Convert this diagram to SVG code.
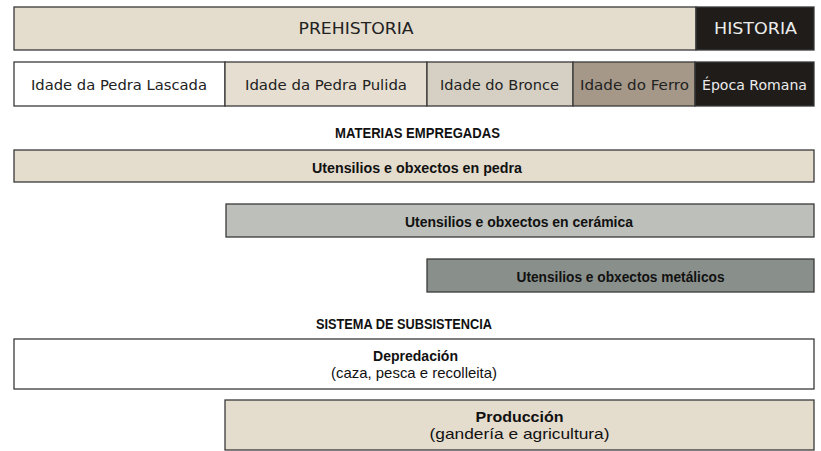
<svg xmlns="http://www.w3.org/2000/svg" width="821" height="451" viewBox="0 0 821 451">
<style>
.box{stroke:#3a3a3a;stroke-width:1.3}
.era{font-family:"DejaVu Sans","Liberation Sans",sans-serif;font-size:16.5px;text-anchor:middle;dominant-baseline:central}
.per{font-family:"DejaVu Sans","Liberation Sans",sans-serif;font-size:14.6px;text-anchor:middle;dominant-baseline:central}
.dk{fill:#222222}
.lt{fill:#ececec}
.hd{font-family:"Liberation Sans","Arial",sans-serif;font-weight:bold;font-size:14.5px;text-anchor:middle;dominant-baseline:central;fill:#111}
.lb{font-family:"Liberation Sans","Arial",sans-serif;font-weight:bold;font-size:15px;text-anchor:middle;dominant-baseline:central;fill:#111}
.sub{font-family:"Liberation Sans","Arial",sans-serif;font-size:15px;text-anchor:middle;dominant-baseline:central;fill:#111}
</style>
<rect width="821" height="451" fill="#ffffff"/>
<g id="prehistoria"><rect class="box" x="14" y="7" width="682" height="43" fill="#e4dccd"/><text class="era dk" x="356" y="28" textLength="115" lengthAdjust="spacingAndGlyphs">PREHISTORIA</text></g>
<g id="historia"><rect class="box" x="696" y="7" width="118" height="43" fill="#1f1c1a"/><text class="era lt" x="755.5" y="28" textLength="83" lengthAdjust="spacingAndGlyphs">HISTORIA</text></g>
<g id="lascada"><rect class="box" x="14" y="62" width="211" height="44" fill="#ffffff"/><text class="per dk" x="119" y="84" textLength="176" lengthAdjust="spacingAndGlyphs">Idade da Pedra Lascada</text></g>
<g id="pulida"><rect class="box" x="225" y="62" width="202" height="44" fill="#e6dfd1"/><text class="per dk" x="326" y="84" textLength="162" lengthAdjust="spacingAndGlyphs">Idade da Pedra Pulida</text></g>
<g id="bronce"><rect class="box" x="427" y="62" width="146" height="44" fill="#d6cfc4"/><text class="per dk" x="499.5" y="84" textLength="119" lengthAdjust="spacingAndGlyphs">Idade do Bronce</text></g>
<g id="ferro"><rect class="box" x="573" y="62" width="122" height="44" fill="#a59888"/><text class="per dk" x="634.5" y="84" textLength="109" lengthAdjust="spacingAndGlyphs">Idade do Ferro</text></g>
<g id="romana"><rect class="box" x="695" y="62" width="119" height="44" fill="#1f1c1a"/><text class="per lt" x="754.5" y="84" textLength="105" lengthAdjust="spacingAndGlyphs">Época Romana</text></g>
<g id="materias"><text class="hd" x="417.5" y="132.5" textLength="165" lengthAdjust="spacingAndGlyphs">MATERIAS EMPREGADAS</text></g>
<g id="pedra"><rect class="box" x="14" y="150" width="800" height="32" fill="#e4dccd"/><text class="lb" x="417" y="167" textLength="210" lengthAdjust="spacingAndGlyphs">Utensilios e obxectos en pedra</text></g>
<g id="ceramica"><rect class="box" x="226" y="204" width="588" height="33" fill="#bcbfba"/><text class="lb" x="519" y="221" textLength="228" lengthAdjust="spacingAndGlyphs">Utensilios e obxectos en cerámica</text></g>
<g id="metalicos"><rect class="box" x="427" y="259" width="387" height="33" fill="#898f8b"/><text class="lb" x="620.5" y="276" textLength="208" lengthAdjust="spacingAndGlyphs">Utensilios e obxectos metálicos</text></g>
<g id="sistema"><text class="hd" x="404" y="324" textLength="176" lengthAdjust="spacingAndGlyphs">SISTEMA DE SUBSISTENCIA</text></g>
<g id="depredacion"><rect class="box" x="14" y="339" width="800" height="50" fill="#ffffff"/><text class="lb" x="415.5" y="355" textLength="85" lengthAdjust="spacingAndGlyphs">Depredación</text><text class="sub" x="414" y="372" textLength="166" lengthAdjust="spacingAndGlyphs">(caza, pesca e recolleita)</text></g>
<g id="produccion"><rect class="box" x="225" y="400" width="589" height="50" fill="#e4dccd"/><text class="lb" x="519.5" y="416" textLength="88" lengthAdjust="spacingAndGlyphs">Producción</text><text class="sub" x="519.5" y="433" textLength="180" lengthAdjust="spacingAndGlyphs">(gandería e agricultura)</text></g>
<g id="connectors"></g>
</svg>
